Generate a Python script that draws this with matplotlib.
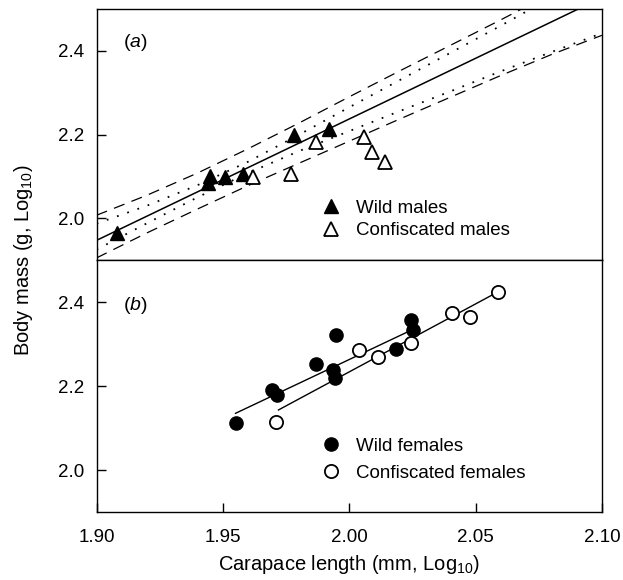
import matplotlib
matplotlib.use('Agg')
import matplotlib.pyplot as plt

plt.rcParams['font.family'] = ['Liberation Sans', 'DejaVu Sans']
plt.rcParams['mathtext.fontset'] = 'custom'
plt.rcParams['mathtext.it'] = 'Liberation Sans:italic'
plt.rcParams['mathtext.rm'] = 'Liberation Sans'

# ---- panel (a): males ----
wild_m_x = [1.908, 1.944, 1.945, 1.951, 1.958, 1.978, 1.992]
wild_m_y = [1.964, 2.083, 2.102, 2.098, 2.106, 2.198, 2.213]
conf_m_x = [1.962, 1.977, 1.987, 2.006, 2.009, 2.014]
conf_m_y = [2.098, 2.106, 2.182, 2.195, 2.158, 2.134]

band_x = [1.90, 1.92, 1.94, 1.96, 1.98, 2.00, 2.02, 2.04, 2.06, 2.08, 2.10]
fit_m = [1.947, 2.005, 2.063, 2.121, 2.179, 2.237, 2.295, 2.353, 2.411, 2.469, 2.527]
pi_hi = [2.007, 2.055, 2.108, 2.166, 2.227, 2.290, 2.352, 2.413, 2.474, 2.537, 2.602]
ci_hi = [1.987, 2.030, 2.079, 2.135, 2.199, 2.265, 2.330, 2.395, 2.460, 2.527, 2.595]
ci_lo = [1.925, 1.988, 2.050, 2.108, 2.160, 2.208, 2.256, 2.303, 2.351, 2.397, 2.442]
pi_lo = [1.905, 1.965, 2.022, 2.078, 2.131, 2.184, 2.237, 2.289, 2.341, 2.391, 2.437]

# ---- panel (b): females ----
wild_f_x = [1.955, 1.9695, 1.9715, 1.987, 1.9935, 1.9945, 1.9947, 2.0184, 2.0243, 2.0253]
wild_f_y = [2.111, 2.190, 2.178, 2.252, 2.238, 2.218, 2.321, 2.287, 2.356, 2.334]
conf_f_x = [1.971, 2.004, 2.0115, 2.0243, 2.0407, 2.048, 2.0588]
conf_f_y = [2.115, 2.286, 2.268, 2.302, 2.374, 2.364, 2.424]

wild_f_line_x = [1.955, 2.026]
wild_f_line_y = [2.135, 2.337]
conf_f_line_x = [1.972, 2.057]
conf_f_line_y = [2.143, 2.418]

xticks = [1.90, 1.95, 2.00, 2.05, 2.10]
yticks = [2.0, 2.2, 2.4]

fig = plt.figure(figsize=(6.23, 5.80), dpi=100)
ax1 = fig.add_axes([0.155, 0.5517, 0.811, 0.4328])
ax2 = fig.add_axes([0.155, 0.1172, 0.811, 0.4345])

dash = (0, (9, 6))
dots = (0, (1, 5))

ax1.plot(band_x, fit_m, color='black', lw=1.1)
ax1.plot(band_x, pi_hi, color='black', lw=0.9, linestyle=dash)
ax1.plot(band_x, pi_lo, color='black', lw=0.9, linestyle=dash)
ax1.plot(band_x, ci_hi, color='black', lw=1.3, linestyle=dots)
ax1.plot(band_x, ci_lo, color='black', lw=1.3, linestyle=dots)
ax1.plot(wild_m_x, wild_m_y, '^', color='black', ms=10, mec='black', label='Wild males')
ax1.plot(conf_m_x, conf_m_y, '^', mfc='white', mec='black', mew=1.3, ms=10,
         label='Confiscated males')

ax2.plot(wild_f_line_x, wild_f_line_y, color='black', lw=1.0)
ax2.plot(conf_f_line_x, conf_f_line_y, color='black', lw=1.0)
ax2.plot(wild_f_x, wild_f_y, 'o', color='black', ms=9.5, label='Wild females')
ax2.plot(conf_f_x, conf_f_y, 'o', mfc='white', mec='black', mew=1.3, ms=9.5,
         label='Confiscated females')

for ax in (ax1, ax2):
    ax.set_xlim(1.90, 2.10)
    ax.set_ylim(1.9, 2.5)
    ax.set_yticks(yticks)
    ax.set_yticklabels(['%.1f' % v for v in yticks])
    ax.tick_params(direction='in', length=6.5, width=1, labelsize=13.5, pad=9)
    for s in ax.spines.values():
        s.set_linewidth(1.0)

ax1.legend(loc='lower left', bbox_to_anchor=(0.42, 0.03), frameon=False,
           fontsize=13.5, handlelength=1.0, handletextpad=0.8, labelspacing=0.3,
           borderpad=0.2)
ax2.legend(loc='lower left', bbox_to_anchor=(0.42, 0.068), frameon=False,
           fontsize=13.5, handlelength=1.0, handletextpad=0.8, labelspacing=0.52,
           borderpad=0.2)

ax1.set_xticks([])
ax2.set_xticks(xticks)
ax2.set_xticklabels(['%.2f' % v for v in xticks])
ax2.tick_params(axis='x', pad=12)

ax1.text(0.052, 0.865, r'($\it{a}$)', transform=ax1.transAxes, fontsize=14, va='center')
ax2.text(0.052, 0.82, r'($\it{b}$)', transform=ax2.transAxes, fontsize=14, va='center')

ax2.set_xlabel('Carapace length (mm, Log$_{10}$)', fontsize=14.5, labelpad=5)
fig.text(0.037, 0.5517, 'Body mass (g, Log$_{10}$)', rotation=90, fontsize=14.5,
         ha='center', va='center')

fig.savefig('out.png', dpi=100)
